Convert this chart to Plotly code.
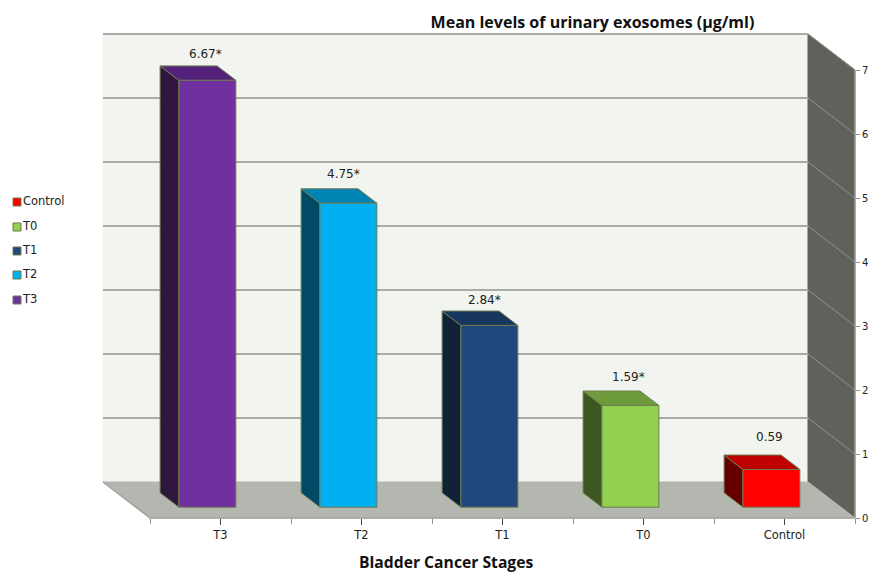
import plotly.graph_objects as go

categories = ["T3", "T2", "T1", "T0", "Control"]
values = [6.67, 4.75, 2.84, 1.59, 0.59]
marked = [True, True, True, True, False]
front_colors = ["#7030a0", "#00b0f0", "#1f497d", "#92d050", "#ff0000"]
side_colors = ["#2e163f", "#004a66", "#0f2238", "#3d5722", "#660000"]
top_colors = ["#54217a", "#0084b4", "#17375e", "#6e9c3c", "#bf0000"]
label_shift = [12, 15, 11, 14, 18]
label_xshift = [-2, -5, -5, -2, -2]
legend_order = ["Control", "T0", "T1", "T2", "T3"]
legend_rows = [202, 227, 251, 275, 300]
y_ticks = [0, 1, 2, 3, 4, 5, 6, 7]

W, H = 870, 572
UX, UY = 141.0, 64.0          # pixels per category / per value unit
X0, Y0 = 150.0, 518.0         # pixel of the front-left floor corner
DX, DY = 47.0 / UX, 36.0 / UY # shift of the full chart depth, in data units
YMAX = 7
NC = len(categories)
EDGE = "#6f7a4f"
TEXT = "#222222"


def proj(x, v, d):
    return x - d * DX, v + d * DY


def poly(pts):
    xs, ys = zip(*pts)
    return list(xs) + [xs[0]], list(ys) + [ys[0]]


fig = go.Figure()


def add_poly(pts, fill, line=None, width=1):
    xs, ys = poly(pts)
    fig.add_trace(go.Scatter(
        x=xs, y=ys, mode="lines", fill="toself", fillcolor=fill,
        line=dict(color=line or fill, width=width), hoverinfo="skip",
        showlegend=False))


def add_line(pts, color, width):
    xs, ys = zip(*pts)
    fig.add_trace(go.Scatter(x=xs, y=ys, mode="lines", line=dict(color=color, width=width),
                             hoverinfo="skip", showlegend=False))


# walls and floor
add_poly([proj(0, 0, 1), proj(NC, 0, 1), proj(NC, YMAX, 1), proj(0, YMAX, 1)], "#f2f5ef")
add_poly([proj(NC, 0, 1), proj(NC, 0, 0), proj(NC, YMAX, 0), proj(NC, YMAX, 1)], "#5f615b")
for t in y_ticks[1:]:
    add_line([proj(0, t, 1), proj(NC, t, 1)], "#a9aba5", 2)
    add_line([proj(NC, t, 1), proj(NC, t, 0)], "#8f918b", 1)
add_poly([proj(0, 0, 1), proj(NC, 0, 1), proj(NC, 0, 0), proj(0, 0, 0)], "#b4b6b0")
add_line([proj(0, 0, 1), proj(0, 0, 0), proj(NC, 0, 0), proj(NC, YMAX, 0)], "#a3a5a0", 1.5)

# bars
BAR_START, BAR_W = 0.305, 0.404
D1, D2 = 0.30, 0.70
for i, v in enumerate(values):
    x1, x2 = i + BAR_START, i + BAR_START + BAR_W
    add_poly([proj(x1, 0, D2), proj(x1, 0, D1), proj(x1, v, D1), proj(x1, v, D2)],
             side_colors[i], EDGE)
    add_poly([proj(x1, v, D1), proj(x2, v, D1), proj(x2, v, D2), proj(x1, v, D2)],
             top_colors[i], EDGE)
    add_poly([proj(x1, 0, D1), proj(x2, 0, D1), proj(x2, v, D1), proj(x1, v, D1)],
             front_colors[i], EDGE)
    lx = proj((x1 + x2) / 2, v, D1)[0]
    ly = proj(x1, v, D2)[1]
    fig.add_annotation(x=lx, y=ly, xshift=label_xshift[i], yshift=label_shift[i],
                       xref="x", yref="y",
                       text=f"{v:.2f}" + ("*" if marked[i] else ""), showarrow=False,
                       font=dict(family="DejaVu Sans", size=12, color=TEXT))

# legend: swatches and names sit tight together
for name, row in zip(legend_order, legend_rows):
    i = categories.index(name)
    fig.add_trace(go.Scatter(
        x=[(17 - X0) / UX], y=[(Y0 - row) / UY], mode="markers+text", name=name,
        text=[name], textposition="middle right", showlegend=False, hoverinfo="skip",
        textfont=dict(family="DejaVu Sans", size=11.5, color=TEXT),
        marker=dict(symbol="square", size=8, color=front_colors[i],
                    line=dict(color=EDGE, width=1))))

fig.add_annotation(x=445.5 / W, y=1 - 561.5 / H, xref="paper", yref="paper",
                   text="<b>Bladder Cancer Stages</b>", showarrow=False,
                   xanchor="center", yanchor="middle",
                   font=dict(family="Open Sans", size=15.7, color="#111111"))

fig.update_layout(
    width=W, height=H,
    margin=dict(l=0, r=0, t=0, b=0),
    paper_bgcolor="white", plot_bgcolor="white", showlegend=False,
    font=dict(family="DejaVu Sans", size=11.5, color=TEXT),
    title=dict(text="<b>Mean levels of urinary exosomes (µg/ml)</b>",
               x=592.5 / W, xanchor="center", y=1 - 22 / H, yanchor="middle",
               font=dict(family="Open Sans", size=16, color="#111111")),
    xaxis=dict(
        range=[-X0 / UX, (W - X0) / UX], domain=[0, 1], anchor="free",
        position=(H - Y0) / H, showgrid=False, zeroline=False, showline=False,
        tickmode="array", tickvals=[i + 0.5 for i in range(NC)], ticktext=categories,
        ticks="outside", ticklen=6, tickwidth=0,
        minor=dict(tickmode="array", tickvals=list(range(NC + 1)), ticks="outside",
                   ticklen=5, tickwidth=1, tickcolor="#8f918b", showgrid=False),
        tickfont=dict(family="DejaVu Sans", size=11.5, color=TEXT),
    ),
    yaxis=dict(
        range=[-(H - Y0) / UY, Y0 / UY], domain=[0, 1], anchor="free",
        position=(X0 + NC * UX) / W, side="right", showgrid=False, zeroline=False,
        showline=False, tickmode="array", tickvals=y_ticks, ticks="outside",
        ticklen=4, tickwidth=1, tickcolor="#8f918b",
        tickfont=dict(family="DejaVu Sans", size=10, color=TEXT),
    ),
)

fig.write_html("out.html", config={"displayModeBar": False},
               post_script="document.body.style.margin='0';")
